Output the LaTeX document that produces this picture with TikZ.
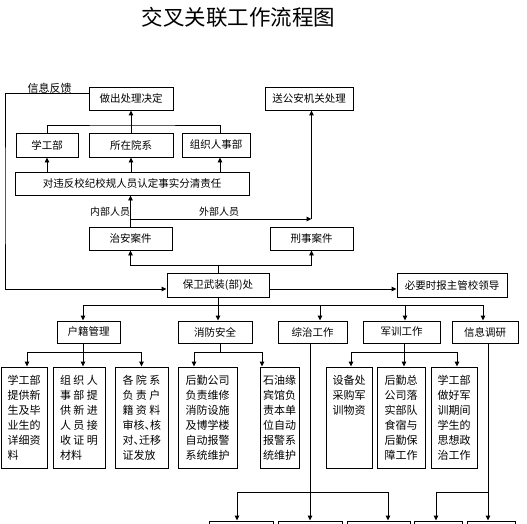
\documentclass[tikz,border=0pt]{standalone}
\usepackage{fontspec}
\setmainfont{Noto Sans CJK SC}
\usetikzlibrary{arrows.meta}
\newcommand\gp{\hspace{2.5pt}}
\newcommand\dun{\makebox[0.5em][l]{、}}
\begin{document}
\begin{tikzpicture}[x=1pt,y=-1pt,
  bx/.style={draw, line width=0.9pt, inner sep=0pt, font=\fontsize{10.5}{12}\selectfont},
  vb/.style={draw, line width=0.9pt, inner xsep=0pt, inner ysep=0pt, minimum height=101pt, align=left, font=\fontsize{11}{15}\selectfont},
  ln/.style={line width=0.9pt},
  ar/.style={line width=0.9pt, -{Triangle[length=5pt,width=4.5pt]}},
  lb/.style={font=\fontsize{10}{12}\selectfont, inner sep=0pt}]
\clip (0,0) rectangle (527,524);
\fill[white] (0,0) rectangle (527,524);
% title
\node[font=\fontsize{21.5}{24}\selectfont, inner sep=0pt] (title) at (238.5,17) {交叉关联工作流程图};
% top boxes
\node[bx, minimum width=84pt, minimum height=23pt] (jd) at (131,98.5) {做出处理决定};
\node[bx, minimum width=88pt, minimum height=23pt] (ga) at (309,98.5) {送公安机关处理};
\node[bx, minimum width=62pt, minimum height=24pt] (xg) at (47,145) {学工部};
\node[bx, minimum width=84pt, minimum height=24pt] (sz) at (131,145) {所在院系};
\node[bx, minimum width=68pt, minimum height=24pt] (zz) at (216,145) {组织人事部};
\node[bx, minimum width=234pt, minimum height=23pt] (rd) at (132,183.5) {对违反校纪校规人员认定事实分清责任};
\node[bx, minimum width=83pt, minimum height=23pt] (za) at (130.5,238.5) {治安案件};
\node[bx, minimum width=83pt, minimum height=23pt] (xs) at (311.5,238.5) {刑事案件};
\node[bx, minimum width=102pt, minimum height=24pt] (bw) at (218,285) {保卫武装(部)处};
\node[bx, minimum width=110pt, minimum height=24pt] (bl) at (452,285) {必要时报主管校领导};
% second row
\node[bx, minimum width=63pt, minimum height=22pt] (hj) at (88.5,332) {户籍管理};
\node[bx, minimum width=74pt, minimum height=22pt] (xf) at (215,332) {消防安全};
\node[bx, minimum width=69pt, minimum height=22pt] (zh) at (312.5,332) {综治工作};
\node[bx, minimum width=77pt, minimum height=22pt] (jx) at (401.5,332) {军训工作};
\node[bx, minimum width=66pt, minimum height=22pt] (xy) at (485,332) {信息调研};
% vertical boxes
\node[vb, minimum width=46pt, text width=33pt] (v1) at (24,417.5) {学工部\\提供新\\生及毕\\业生的\\详细资\\料};
\node[vb, minimum width=52pt, text width=38pt] (v2) at (79,417.5) {组\gp 织\gp 人\\事\gp 部\gp 提\\供\gp 新\gp 进\\人\gp 员\gp 接\\收\gp 证\gp 明\\材料};
\node[vb, minimum width=53pt, text width=38pt] (v3) at (141.5,417.5) {各\gp 院\gp 系\\负\gp 责\gp 户\\籍\gp 资\gp 料\\审核\dun 核\\对\dun 迁移\\证发放};
\node[vb, minimum width=59pt, text width=44pt] (v4) at (207.5,417.5) {后勤公司\\负责维修\\消防设施\\及博学楼\\自动报警\\系统维护};
\node[vb, minimum width=39pt, text width=33pt] (v5) at (279.5,417.5) {石油缘\\宾馆负\\责本单\\位自动\\报警系\\统维护};
\node[vb, minimum width=46pt, text width=33pt] (v6) at (349,417.5) {设备处\\采购军\\训物资\\\mbox{}\\\mbox{}\\\mbox{}};
\node[vb, minimum width=48pt, text width=33pt] (v7) at (401,417.5) {后勤总\\公司落\\实部队\\食宿与\\后勤保\\障工作};
\node[vb, minimum width=46pt, text width=33pt] (v8) at (454,417.5) {学工部\\做好军\\训期间\\学生的\\思想政\\治工作};
% bottom boxes (cut off)
\node[bx, minimum width=64pt, minimum height=24pt] (b1) at (241,533) {};
\node[bx, minimum width=64pt, minimum height=24pt] (b2) at (310,533) {};
\node[bx, minimum width=63pt, minimum height=24pt] (b3) at (378.5,533) {};
\node[bx, minimum width=48pt, minimum height=24pt] (b4) at (438,533) {};
\node[bx, minimum width=48pt, minimum height=24pt] (b5) at (491,533) {};
% labels
\node[lb, font=\fontsize{11}{12}\selectfont] (fbl) at (49.5,88) {信息反馈};
\node[lb] (nb) at (110,212) {内部人员};
\node[lb] (wb) at (219,212) {外部人员};
% coordinates
\coordinate (fb) at (5,200);
\coordinate (j1) at (131,125);
\coordinate (br) at (130.5,219);
\coordinate (j2) at (218,265);
\coordinate (j3) at (218,305);
\coordinate (j4) at (83,352);
\coordinate (j5) at (220,352);
\coordinate (j6) at (310,492);
\coordinate (j7) at (404,352);
\coordinate (j8) at (488,492);
\coordinate (zzn) at ([xshift=4pt]zz.north);
\coordinate (zzs) at ([xshift=4pt]zz.south);
% feedback
\draw[ar] ([yshift=5.5pt]jd.west) -| (fb) |- ([yshift=-4pt]bw.west);
% row 1 to decision
\draw[ln] (xg.north) |- (j1) -| (zzn);
\draw[ar] (sz.north) -- (jd.south);
\draw[ar] (rd.north -| xg.north) -- (xg.south);
\draw[ar] (rd.north -| sz.north) -- (sz.south);
\draw[ar] (rd.north -| zzs) -- (zzs);
% cases
\draw[ar] (za.north) -- (rd.south -| za.north);
\draw[ar] (br) -- (br -| xs.north);
\draw[ar] (br -| xs.north) -- (ga.south -| xs.north);
\draw[ln] (bw.north) -- (j2);
\draw[ar] (j2) -| (za.south);
\draw[ar] (j2) -| (xs.south);
\draw[ar] ([yshift=-4pt]bw.east) -- ([yshift=-4pt]bl.west);
% to second row
\draw[ln] (bw.south) -- (j3);
\draw[ar] (j3) -| ([xshift=-5.5pt]hj.north);
\draw[ar] (j3) -- (j3 |- xf.north);
\draw[ar] (j3) -| ([xshift=7.5pt]zh.north);
\draw[ar] (j3) -| ([xshift=3.5pt]jx.north);
\draw[ar] (j3) -| ([xshift=-2pt]xy.north);
% household
\draw[ln] ([xshift=-5.5pt]hj.south) -- (j4);
\draw[ar] (j4) -| ([xshift=3pt]v1.north);
\draw[ar] (j4) -- (j4 |- v2.north);
\draw[ar] (j4) -| (v3.north);
% fire
\draw[ln] ([xshift=5pt]xf.south) -- (j5);
\draw[ar] (j5) -| ([xshift=-13.5pt]v4.north);
\draw[ar] (j5) -| ([xshift=-17.5pt]v5.north);
% comprehensive
\draw[ar] (zh.south -| b2.north) -- (b2.north);
\draw[ar] (j6) -| ([xshift=-4pt]b1.north);
\draw[ar] (j6) -| ([xshift=9.5pt]b3.north);
% military
\draw[ln] ([xshift=2.5pt]jx.south) -- (j7);
\draw[ar] (j7) -| ([xshift=2pt]v6.north);
\draw[ar] (j7) -| ([xshift=3pt]v7.north);
\draw[ar] (j7) -| ([xshift=3pt]v8.north);
% info
\draw[ln] ([xshift=3pt]xy.south) -- (j8);
\draw[ar] (j8) -| ([xshift=-2pt]b4.north);
\draw[ar] (j8) -- (j8 |- b5.north);
\end{tikzpicture}
\end{document}
